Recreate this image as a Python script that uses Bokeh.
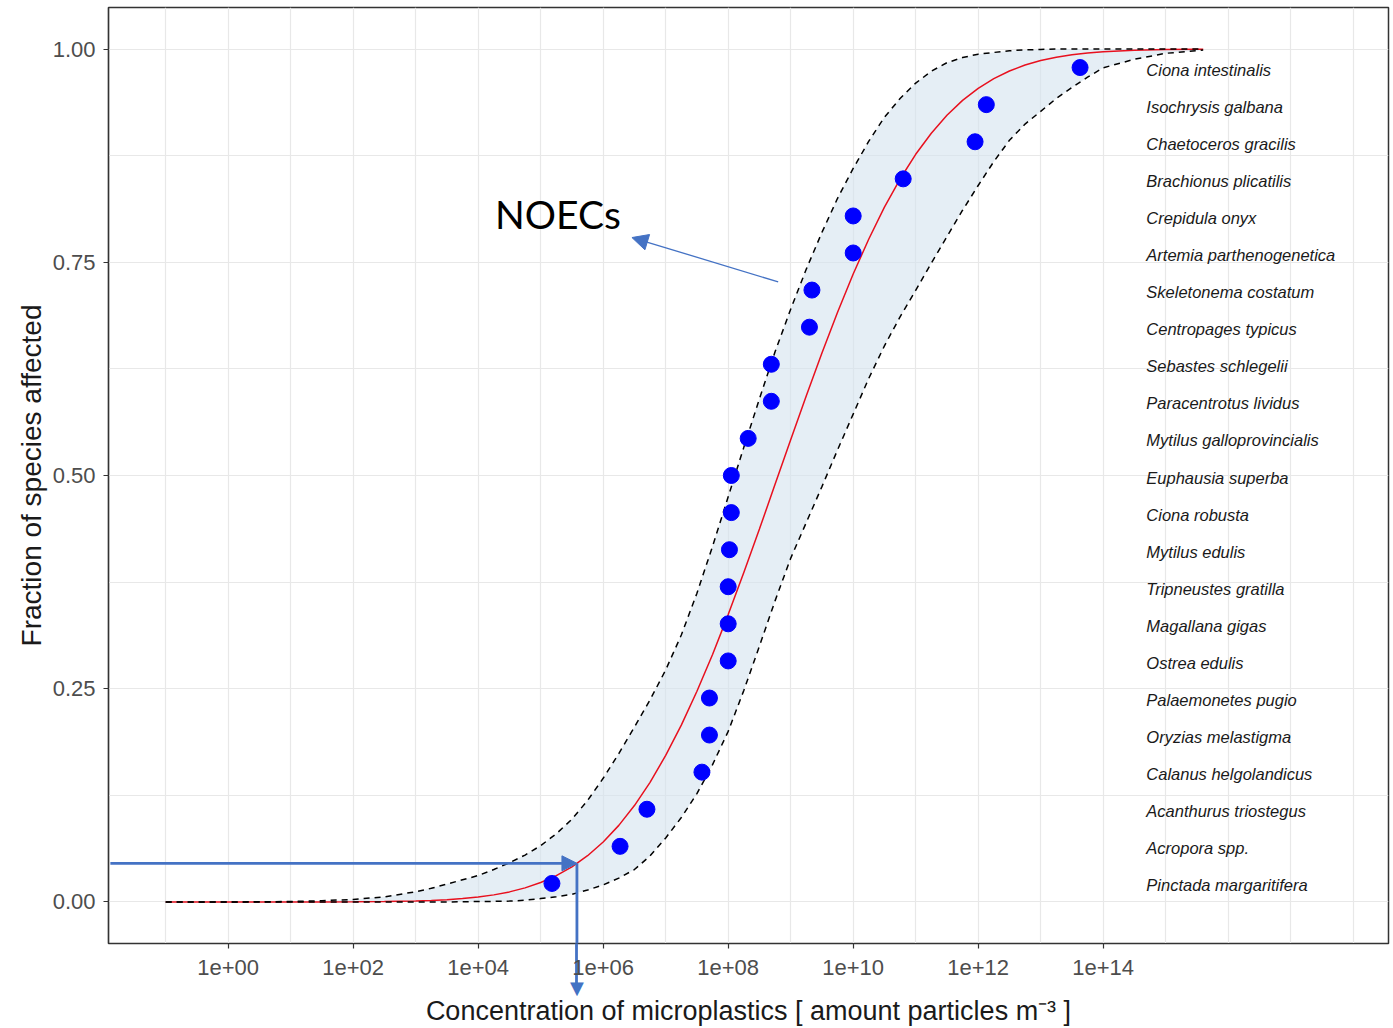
from bokeh.plotting import figure
from bokeh.models import (Range1d, FixedTicker, CustomJSTickFormatter, Arrow,
                          NormalHead, Label, ColumnDataSource, LogAxis)
from bokeh.core.properties import value
from bokeh.embed import file_html
from bokeh.resources import INLINE

# ---------------- data ----------------
species = [
    "Pinctada margaritifera", "Acropora spp.", "Acanthurus triostegus",
    "Calanus helgolandicus", "Oryzias melastigma", "Palaemonetes pugio",
    "Ostrea edulis", "Magallana gigas", "Tripneustes gratilla",
    "Mytilus edulis", "Ciona robusta", "Euphausia superba",
    "Mytilus galloprovincialis", "Paracentrotus lividus", "Sebastes schlegelii",
    "Centropages typicus", "Skeletonema costatum", "Artemia parthenogenetica",
    "Crepidula onyx", "Brachionus plicatilis", "Chaetoceros gracilis",
    "Isochrysis galbana", "Ciona intestinalis",
]
fraction = [0.0217, 0.0652, 0.1087, 0.1522, 0.1957, 0.2391, 0.2826, 0.3261,
            0.3696, 0.4130, 0.4565, 0.5000, 0.5435, 0.5870, 0.6304, 0.6739,
            0.7174, 0.7609, 0.8043, 0.8478, 0.8913, 0.9348, 0.9783]
noec_log10 = [5.18, 6.27, 6.70, 7.58, 7.70, 7.70, 8.00, 8.00, 8.00, 8.02,
              8.05, 8.05, 8.32, 8.69, 8.69, 9.30, 9.34, 10.00, 10.00, 10.80,
              11.95, 12.13, 13.63]

curve_log10 = [-1.0, -0.5, 0.0, 0.5, 1.0, 1.5, 2.0, 2.5, 3.0,
               3.25, 3.5, 3.75, 4.0, 4.25, 4.5, 4.75, 5.0, 5.25, 5.5, 5.75,
               6.0, 6.25, 6.5, 6.75, 7.0, 7.25, 7.5, 7.75, 8.0, 8.25, 8.5,
               8.75, 9.0, 9.25, 9.5, 9.75, 10.0, 10.25, 10.5, 10.75, 11.0,
               11.25, 11.5, 11.75, 12.0, 12.25, 12.5, 12.75, 13.0, 13.25,
               13.5, 13.75, 14.0, 14.5, 15.0, 15.5, 15.6]
fit_median = [0.0, 0.0, 0.0, 0.0, 0.00002, 0.00006, 0.00017, 0.00046, 0.00113,
              0.00174, 0.00264, 0.00393, 0.00577, 0.00831, 0.0118, 0.0165,
              0.0228, 0.0309, 0.0412, 0.0542, 0.0703, 0.0898, 0.1130, 0.1403,
              0.1718, 0.2073, 0.2470, 0.2902, 0.3369, 0.3863, 0.4372, 0.4896,
              0.5418, 0.5936, 0.6436, 0.6915, 0.7363, 0.7773, 0.8146, 0.8476,
              0.8766, 0.9013, 0.9223, 0.9398, 0.9539, 0.9653, 0.9742, 0.9812,
              0.9865, 0.9904, 0.9933, 0.9954, 0.9969, 0.9987, 0.9995, 0.9998,
              0.9998]
fit_upper = [0.0, 0.0, 0.0, 0.0002, 0.0005, 0.0015, 0.003, 0.006, 0.012,
             0.016, 0.021, 0.026, 0.031, 0.038, 0.046, 0.055, 0.066, 0.080,
             0.097, 0.119, 0.145, 0.174, 0.205, 0.237, 0.272, 0.313, 0.362,
             0.417, 0.475, 0.533, 0.590, 0.645, 0.695, 0.742, 0.785, 0.825,
             0.860, 0.892, 0.920, 0.942, 0.960, 0.974, 0.984, 0.990, 0.994,
             0.996, 0.998, 0.999, 0.9995, 1.0, 1.0, 1.0, 1.0, 1.0, 1.0, 1.0,
             1.0]
fit_lower = [0.0, 0.0, 0.0, 0.0, 0.0, 0.0, 0.0, 0.0, 0.0,
             0.0, 0.0, 0.0002, 0.0005, 0.0007, 0.001, 0.002, 0.004, 0.006,
             0.009, 0.014, 0.020, 0.028, 0.038, 0.054, 0.075, 0.099, 0.127,
             0.161, 0.200, 0.248, 0.300, 0.353, 0.403, 0.445, 0.487, 0.530,
             0.572, 0.614, 0.652, 0.686, 0.717, 0.749, 0.780, 0.811, 0.840,
             0.868, 0.893, 0.912, 0.927, 0.942, 0.955, 0.967, 0.978, 0.988,
             0.995, 0.998, 0.999]
assert len(curve_log10) == len(fit_median) == len(fit_upper) == len(fit_lower)

x_tick_exponents = [0, 2, 4, 6, 8, 10, 12, 14]
y_ticks = [0.0, 0.25, 0.5, 0.75, 1.0]

# annotation anchors (log10 concentration, fraction)
hc_log10, hc_fraction = 5.58, 0.0453
noec_text_pos = (4.27, 0.807)
noec_arrow_tail = (8.80, 0.727)
noec_arrow_head = (6.46, 0.779)
label_log10 = 14.69

# ---------------- figure ----------------
X_LO, X_HI = -1.915, 18.565
Y_LO, Y_HI = -0.0487, 1.0487

noec = [10 ** v for v in noec_log10]
curve_x = [10 ** v for v in curve_log10]
blue = "#4472c4"

p = figure(width=1393, height=1028, x_axis_type="log",
           x_range=Range1d(10 ** X_LO, 10 ** X_HI),
           y_range=Range1d(Y_LO, Y_HI),
           output_backend="svg", toolbar_location=None,
           min_border_left=108, min_border_right=5,
           min_border_top=7, min_border_bottom=85)
p.background_fill_color = "white"
p.border_fill_color = "white"
p.outline_line_color = "#333333"
p.outline_line_width = 1.5

# grid
p.xgrid.ticker = FixedTicker(ticks=[10 ** k for k in range(-2, 20)])
p.ygrid.ticker = FixedTicker(ticks=[i * 0.125 for i in range(9)])
for g in (p.xgrid, p.ygrid):
    g.grid_line_color = "#e8e8e8"
    g.grid_line_width = 1.2

# ---- x axis A (next to the panel): tick marks, plus the part of the HC5
#      arrow that lies below the panel (its minor tick = shaft, label = tip)
axA = p.xaxis[0]
axA.ticker = FixedTicker(ticks=[10 ** e for e in x_tick_exponents] + [10 ** hc_log10],
                         minor_ticks=[10 ** hc_log10])
axA.formatter = CustomJSTickFormatter(args=dict(hc=hc_log10), code="""
return Math.abs(Math.log10(tick) - hc) < 0.01 ? '\u25bc' : '';
""")
axA.axis_line_color = "#333333"
axA.axis_line_width = 1.2
axA.major_tick_line_color = "#333333"
axA.major_tick_line_width = 1.2
axA.major_tick_out = 5
axA.major_tick_in = 0
axA.minor_tick_line_color = blue
axA.minor_tick_line_width = 2.8
axA.minor_tick_in = 0
axA.minor_tick_out = 40
axA.major_label_text_font = "DejaVu Sans"
axA.major_label_text_font_size = "18px"
axA.major_label_text_color = blue
axA.major_label_standoff = -7

# ---- x axis B: tick labels and title
axB = LogAxis(ticker=FixedTicker(ticks=[10 ** e for e in x_tick_exponents]),
              formatter=CustomJSTickFormatter(code="""
const e = Math.round(Math.log10(tick));
return '1e' + (e < 0 ? '-' : '+') + String(Math.abs(e)).padStart(2, '0');
"""))
axB.axis_line_color = None
axB.major_tick_line_color = None
axB.minor_tick_line_color = None
axB.major_tick_out = 0
axB.major_tick_in = 0
axB.minor_tick_out = 0
axB.minor_tick_in = 0
axB.major_label_text_font = "Liberation Sans"
axB.major_label_text_font_size = "22px"
axB.major_label_text_color = "#4d4d4d"
axB.major_label_standoff = -41
axB.axis_label = "Concentration of microplastics [ amount particles m\u207b\u00b3 ]"
axB.axis_label_text_font = "Liberation Sans"
axB.axis_label_text_font_size = "27px"
axB.axis_label_text_font_style = "normal"
axB.axis_label_text_color = "#1a1a1a"
axB.axis_label_standoff = 18
p.add_layout(axB, "below")

# ---- y axis
yax = p.yaxis[0]
yax.ticker = FixedTicker(ticks=y_ticks)
yax.formatter = CustomJSTickFormatter(code="return tick.toFixed(2);")
yax.axis_line_color = "#333333"
yax.axis_line_width = 1.2
yax.major_tick_line_color = "#333333"
yax.major_tick_line_width = 1.2
yax.major_tick_out = 5
yax.major_tick_in = 0
yax.minor_tick_line_color = None
yax.major_label_text_font = "Liberation Sans"
yax.major_label_text_font_size = "22px"
yax.major_label_text_color = "#4d4d4d"
yax.major_label_standoff = 8
yax.axis_label = "Fraction of species affected"
yax.axis_label_text_font = "Liberation Sans"
yax.axis_label_text_font_size = "28px"
yax.axis_label_text_font_style = "normal"
yax.axis_label_text_color = "#1a1a1a"
yax.axis_label_standoff = 3

# confidence band
p.varea(x=curve_x, y1=fit_lower, y2=fit_upper, fill_color="#d3e3ee",
        fill_alpha=0.6)
# fitted curve and bounds
p.line(curve_x, fit_median, line_color="#e8101e", line_width=1.5)
p.line(curve_x, fit_upper, line_color="black", line_width=1.5,
       line_dash="6 5")
p.line(curve_x, fit_lower, line_color="black", line_width=1.5,
       line_dash="6 5")

# NOEC points
src = ColumnDataSource(dict(x=noec, y=fraction, name=species,
                            lx=[10 ** label_log10] * len(species)))
p.scatter("x", "y", source=src, size=16, fill_color="#0000ff",
          line_color="#0000ff")
p.text("lx", "y", text="name", source=src, text_font=value("Liberation Sans"),
       text_font_style="italic", text_font_size="16.5px",
       text_color="#1a1a1a", text_baseline="middle", text_align="left",
       y_offset=2)

# annotations
p.add_layout(Label(x=10 ** noec_text_pos[0], y=noec_text_pos[1], text="NOECs",
                   text_font="Lato", text_font_size="39px",
                   text_color="black", text_baseline="alphabetic"))
p.add_layout(Arrow(x_start=10 ** noec_arrow_tail[0], y_start=noec_arrow_tail[1],
                   x_end=10 ** noec_arrow_head[0], y_end=noec_arrow_head[1],
                   line_color=blue, line_width=1.3,
                   end=NormalHead(size=16, fill_color=blue, line_color=blue)))

# L-shaped arrow marking the HC5 (inside the panel)
p.add_layout(Arrow(x_start=10 ** (X_LO + 0.03), y_start=hc_fraction,
                   x_end=10 ** hc_log10, y_end=hc_fraction,
                   line_color=blue, line_width=2.8,
                   end=NormalHead(size=15, fill_color=blue, line_color=blue)))
p.add_layout(Arrow(x_start=10 ** hc_log10, y_start=hc_fraction,
                   x_end=10 ** hc_log10, y_end=Y_LO,
                   line_color=blue, line_width=2.8, end=None))

open("out.html", "w").write(file_html(p, INLINE))
